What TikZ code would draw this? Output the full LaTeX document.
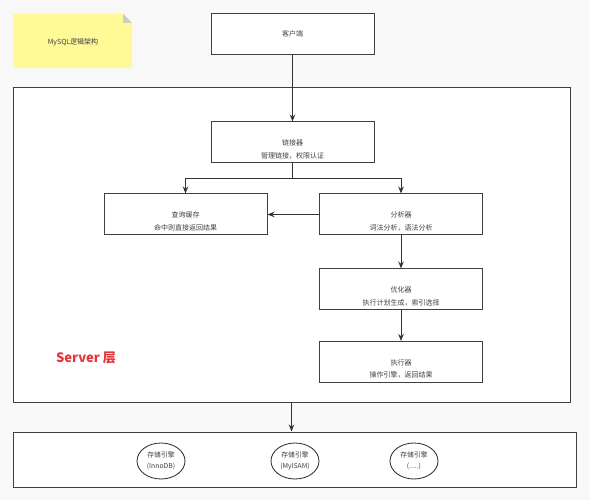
\documentclass[tikz,border=0pt]{standalone}
\usepackage{fontspec}
\setmainfont{Noto Sans CJK SC}
\usetikzlibrary{arrows.meta,shapes.geometric}

\definecolor{notefill}{RGB}{255,250,150}
\definecolor{srvred}{RGB}{232,51,58}
\definecolor{bggray}{RGB}{248,248,248}

\tikzset{
	box/.style={draw=black!75, line width=1pt, fill=white, minimum width=163pt, minimum height=41pt, inner sep=0pt},
	panel/.style={draw=black!75, line width=1pt, fill=white, inner sep=0pt},
	txt/.style={font=\fontsize{7}{12.5}\selectfont, text=black!75, align=center, inner sep=0pt},
	eng/.style={ellipse, draw=black!85, line width=0.8pt, fill=white, minimum width=48pt, minimum height=36pt, inner sep=0pt, font=\fontsize{6.8}{10.5}\selectfont, text=black!75, align=center},
	arr/.style={-{Stealth[length=7pt,width=5.5pt]}, draw=black!80, line width=1pt}
}

\begin{document}
\begin{tikzpicture}[x=1pt, y=-1pt]

	\fill[bggray] (0,0) rectangle (590,500);
	\useasboundingbox (0,0) rectangle (590,500);

	% note
	\fill[notefill] (13,14) -- (123,14) -- (132,23) -- (132,68) -- (13,68) -- cycle;
	\fill[black!20] (123,14) -- (132,23) -- (123,23) -- cycle;
	\node[txt] (note) at (73,42) {MySQL逻辑架构};

	\node[box] (client) at (292.5,34) {};
	\node[txt] (clientt) at (client.center) {客户端};

	% server layer
	\node[panel, minimum width=557pt, minimum height=314pt] (server) at (291.5,245) {};
	\node[font=\fontsize{13}{15}\selectfont\bfseries, text=srvred] (srvlabel) at (86,358) {Server 层};

	\node[box] (link) at (292.5,142.5) {};
	\node[txt, yshift=-7pt] (linkt) at (link.center) {链接器\\管理链接，权限认证};

	\node[box] (cache) at (185.5,214.5) {};
	\node[txt, yshift=-7pt] (cachet) at (cache.center) {查询缓存\\命中则直接返回结果};

	\node[box] (parse) at (401,214.5) {};
	\node[txt, yshift=-7pt] (parset) at (parse.center) {分析器\\词法分析，语法分析};

	\node[box] (opt) at (401,289.5) {};
	\node[txt, yshift=-7pt] (optt) at (opt.center) {优化器\\执行计划生成，索引选择};

	\node[box] (exec) at (401,362) {};
	\node[txt, yshift=-7pt] (exect) at (exec.center) {执行器\\操作引擎，返回结果};

	% storage layer
	\node[panel, minimum width=563pt, minimum height=55pt] (store) at (294.5,459.5) {};
	\node[eng] (inno) at (161,461) {存储引擎\\(InnoDB)};
	\node[eng] (myisam) at (295,461) {存储引擎\\(MyISAM)};
	\node[eng] (other) at (414,461) {存储引擎\\(.....)};

	\coordinate (split) at (292.5,179);
	\draw[arr] (client.south) -- (link.north);
	\draw[line width=1pt, draw=black!80] (link.south) -- (split);
	\draw[arr] (split) -| (cache.north);
	\draw[arr] (split) -| (parse.north);
	\draw[arr] (parse.west) -- (cache.east);
	\draw[arr] (parse.south) -- (opt.north);
	\draw[arr] (opt.south) -- (exec.north);
	\draw[arr] (server.south) -- (server.south |- store.north);

\end{tikzpicture}
\end{document}
